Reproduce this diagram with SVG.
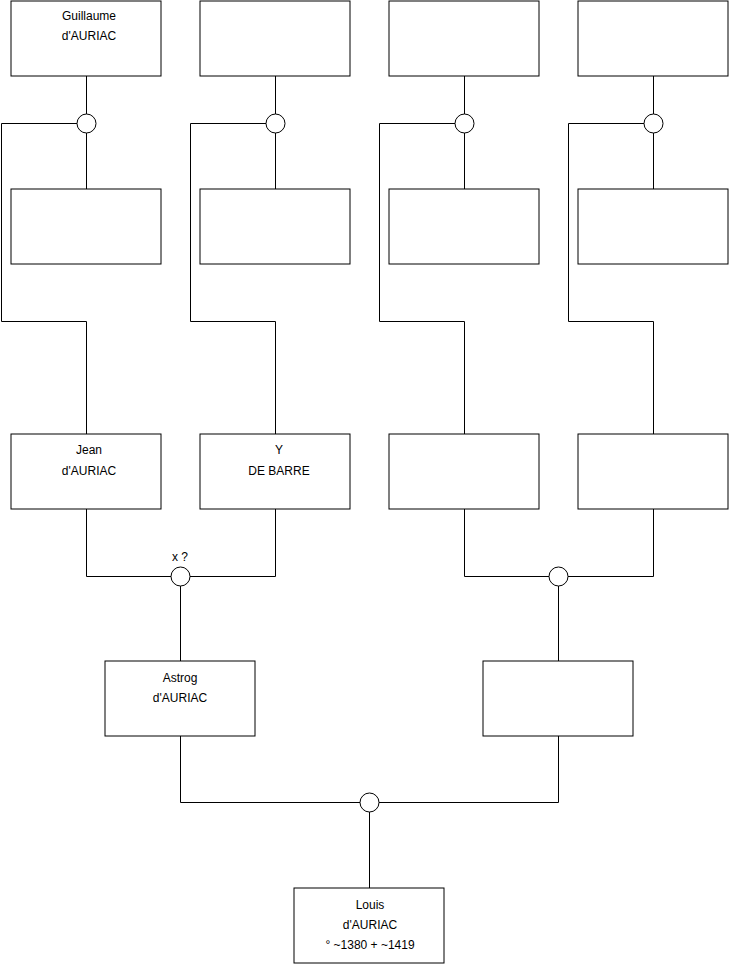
<svg xmlns="http://www.w3.org/2000/svg" width="740" height="975" viewBox="0 0 740 975">
<style>
.box{fill:#fff;stroke:#000;stroke-width:1}
.ln{fill:none;stroke:#000;stroke-width:1}
.c{fill:#fff;stroke:#000;stroke-width:1}
text{font-family:"Liberation Sans",Arial,sans-serif;font-size:12px;fill:#000;text-anchor:middle}
</style>
<rect width="740" height="975" fill="#fff"/>
<g id="connectors">
<path class="ln" d="M86.5 76V114M86.5 133V189M77 123.5H1.5V321.5H86.5V434"/>
<path class="ln" d="M275.5 76V114M275.5 133V189M266 123.5H190.5V321.5H275.5V434"/>
<path class="ln" d="M464.5 76V114M464.5 133V189M455 123.5H379.5V321.5H464.5V434"/>
<path class="ln" d="M653.5 76V114M653.5 133V189M644 123.5H568.5V321.5H653.5V434"/>
<path class="ln" d="M86.5 509V576.5H171M275.5 509V576.5H190M180.5 586V661"/>
<path class="ln" d="M464.5 509V576.5H549M653.5 509V576.5H568M558.5 586V661"/>
<path class="ln" d="M180.5 736V802.5H360M558.5 736V802.5H379M369.5 812V888"/>
</g>
<g id="m1"><circle class="c" cx="86.5" cy="123.5" r="9.5"/></g>
<g id="m2"><circle class="c" cx="275.5" cy="123.5" r="9.5"/></g>
<g id="m3"><circle class="c" cx="464.5" cy="123.5" r="9.5"/></g>
<g id="m4"><circle class="c" cx="653.5" cy="123.5" r="9.5"/></g>
<g id="m5"><circle class="c" cx="180.5" cy="576.5" r="9.5"/><text x="180" y="561">x ?</text></g>
<g id="m6"><circle class="c" cx="558.5" cy="576.5" r="9.5"/></g>
<g id="m7"><circle class="c" cx="369.5" cy="802.5" r="9.5"/></g>
<g id="guillaume"><rect class="box" x="11" y="1" width="150" height="75"/><text x="89" y="20">Guillaume</text><text x="89" y="40">d'AURIAC</text></g>
<g id="p2"><rect class="box" x="200" y="1" width="150" height="75"/></g>
<g id="p3"><rect class="box" x="389" y="1" width="150" height="75"/></g>
<g id="p4"><rect class="box" x="578" y="1" width="150" height="75"/></g>
<g id="p5"><rect class="box" x="11" y="189" width="150" height="75"/></g>
<g id="p6"><rect class="box" x="200" y="189" width="150" height="75"/></g>
<g id="p7"><rect class="box" x="389" y="189" width="150" height="75"/></g>
<g id="p8"><rect class="box" x="578" y="189" width="150" height="75"/></g>
<g id="jean"><rect class="box" x="11" y="434" width="150" height="75"/><text x="89" y="454">Jean</text><text x="89" y="475">d'AURIAC</text></g>
<g id="y"><rect class="box" x="200" y="434" width="150" height="75"/><text x="279" y="454">Y</text><text x="279" y="475">DE BARRE</text></g>
<g id="p11"><rect class="box" x="389" y="434" width="150" height="75"/></g>
<g id="p12"><rect class="box" x="578" y="434" width="150" height="75"/></g>
<g id="astrog"><rect class="box" x="105" y="661" width="150" height="75"/><text x="180" y="682">Astrog</text><text x="180" y="702">d'AURIAC</text></g>
<g id="p14"><rect class="box" x="483" y="661" width="150" height="75"/></g>
<g id="louis"><rect class="box" x="294" y="888" width="150" height="75"/><text x="370" y="909">Louis</text><text x="370" y="929">d'AURIAC</text><text x="370" y="949">° ~1380 + ~1419</text></g>
</svg>
